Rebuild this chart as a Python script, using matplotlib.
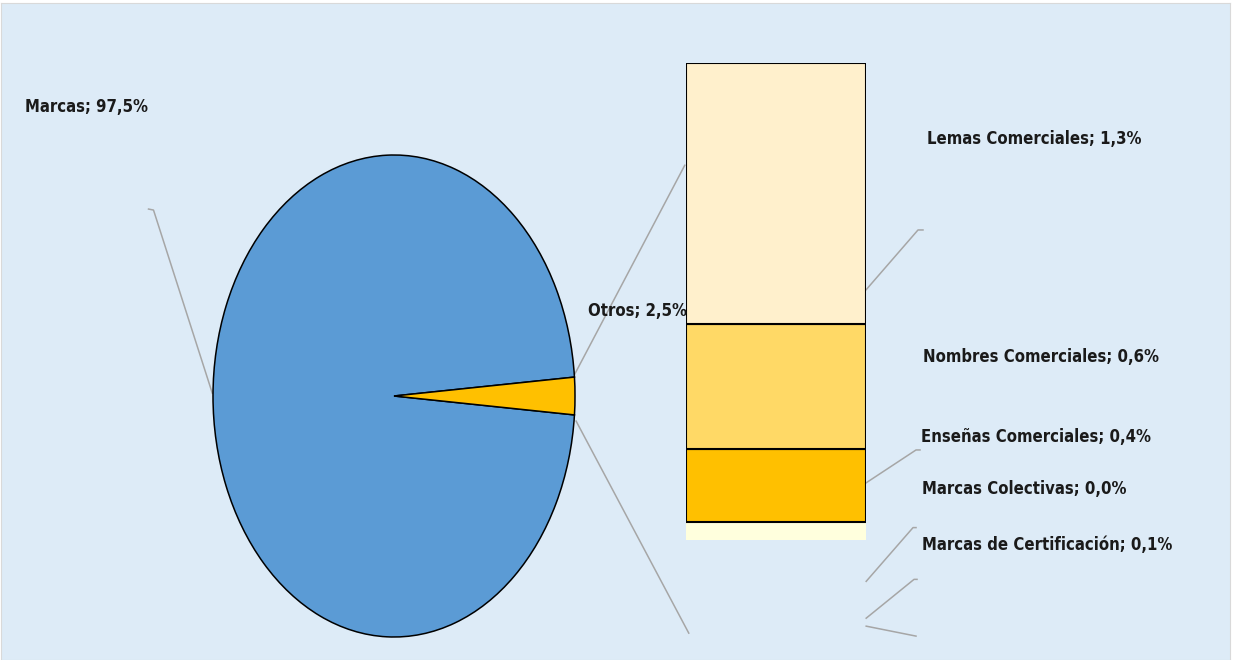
import numpy as np
import matplotlib
matplotlib.use('Agg')
from matplotlib import pyplot as plt

# pie: main split
pie_labels = ['Marcas', 'Otros']
pie_values = [97.5, 2.5]
pie_text = ['Marcas; 97,5%', 'Otros; 2,5%']

# bar: breakdown of "Otros" (bottom to top)
bar_labels = ['Marcas de Certificación', 'Marcas Colectivas', 'Enseñas Comerciales',
              'Nombres Comerciales', 'Lemas Comerciales']
bar_values = [0.09, 0.004, 0.383, 0.655, 1.37]
bar_text = ['Marcas de Certificación; 0,1%', 'Marcas Colectivas; 0,0%',
            'Enseñas Comerciales; 0,4%', 'Nombres Comerciales; 0,6%',
            'Lemas Comerciales; 1,3%']

bg = '#DDEBF7'
pie_colors = ['#5B9BD5', '#FFC000']
bar_colors = ['#FFFFDD', '#FFC000', '#FFC000', '#FFD966', '#FFF0CC']
bar_edges = ['none', 'none', 'black', 'black', 'black']
line_gray = '#A6A6A6'
font = ['DejaVu Sans']

W, H = 1233, 660
fig = plt.figure(figsize=(W / 100, H / 100), dpi=100, facecolor='white')

# background panel in pixel coordinates
ax_bg = fig.add_axes([1 / W, 0, (W - 4) / W, (H - 3) / H])
ax_bg.set_facecolor(bg)
ax_bg.set_xlim(0, W)
ax_bg.set_ylim(H, 0)
ax_bg.set_xticks([])
ax_bg.set_yticks([])
for s in ax_bg.spines.values():
    s.set_color('#D9D9D9')
    s.set_linewidth(0.8)


def fig_box(x0, y0, x1, y1):
    return [x0 / W, (H - y1) / H, (x1 - x0) / W, (y1 - y0) / H]


# pie (stretched into an ellipse)
ax_pie = fig.add_axes(fig_box(213, 155, 575, 637))
half = pie_values[1] / 100 * 180
ax_pie.pie(pie_values, colors=pie_colors, startangle=half, counterclock=True,
           wedgeprops=dict(edgecolor='black', linewidth=1.1))
ax_pie.set_aspect('auto')
ax_pie.set_xlim(-1, 1)
ax_pie.set_ylim(-1, 1)
ax_pie.axis('off')

# stacked bar
ax_bar = fig.add_axes(fig_box(686, 63, 866, 540))
bottom = 0
for v, c, e in zip(bar_values, bar_colors, bar_edges):
    ax_bar.bar(0, v, bottom=bottom, width=1, color=c, edgecolor=e, linewidth=1.5)
    bottom += v
ax_bar.set_xlim(-0.5, 0.5)
ax_bar.set_ylim(0, sum(bar_values))
ax_bar.axis('off')

# series lines and leader lines (pixel coords)
lines = [
    [(575, 374), (686, 163)],
    [(577, 420), (690, 633)],
    [(148, 207), (153, 208), (212, 392)],
    [(868, 288), (920, 228), (925, 228)],
    [(868, 482), (918, 449), (922, 449)],
    [(868, 581), (915, 527), (918, 527)],
    [(868, 618), (916, 579), (919, 579)],
    [(868, 626), (918, 636)],
]
for pts in lines:
    xs, ys = zip(*pts)
    ax_bg.plot(xs, ys, color=line_gray, linewidth=1.1, zorder=1)

# labels
kw = dict(fontsize=12, fontweight='bold', family=font, fontstretch='condensed',
          color='#1A1A1A', va='center', ha='left', zorder=5)
ax_bg.text(24, 104, pie_text[0], **kw)
fig.text(588 / W, 1 - 311 / H, pie_text[1], fontsize=12, fontweight='bold',
         family=font, fontstretch='condensed', color='#1A1A1A',
         va='center', ha='left', zorder=10)
label_pos = [(924, 544), (924, 488), (923, 436), (925, 356), (929, 137)]
for (x, y), t in zip(label_pos, bar_text):
    ax_bg.text(x, y, t, **kw)

fig.savefig('out.png', dpi=100, facecolor=fig.get_facecolor())
